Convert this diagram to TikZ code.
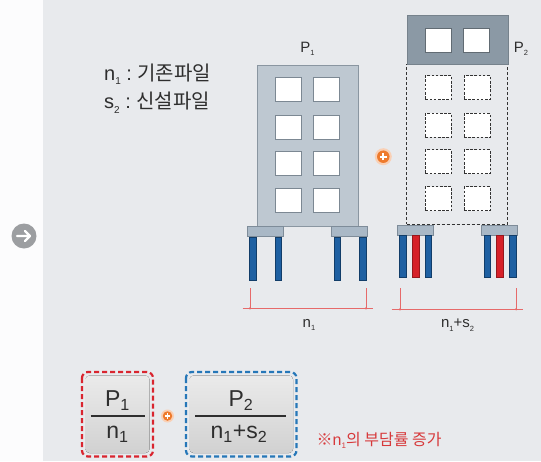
\documentclass[tikz,border=0pt]{standalone}
\usepackage{fontspec}
\setmainfont{Liberation Sans}
\newfontfamily\kr{Noto Sans CJK KR}
% small, low index used in the labels
\newcommand{\lowidx}[1]{\raisebox{-0.45ex}{\scalebox{0.5}{#1}}}
\definecolor{bg}{HTML}{E8EAED}
\definecolor{strip}{HTML}{FCFCFD}
\definecolor{txt}{HTML}{2E2E2E}
\definecolor{bodyc}{HTML}{BEC8D1}
\definecolor{bodyedge}{HTML}{8A96A1}
\definecolor{topc}{HTML}{8B99A5}
\definecolor{winedge}{HTML}{7C8893}
\definecolor{footc}{HTML}{A9B8C6}
\definecolor{footedge}{HTML}{7E8C99}
\definecolor{pblue}{HTML}{1E60A2}
\definecolor{pblueedge}{HTML}{113D69}
\definecolor{pred}{HTML}{D62129}
\definecolor{dimred}{HTML}{E66A6A}
\definecolor{plusc}{HTML}{EE7A2C}
\definecolor{notered}{HTML}{D7393B}
\definecolor{boxred}{HTML}{D9252F}
\definecolor{boxblue}{HTML}{2677B8}
\definecolor{arrowgray}{HTML}{9C9EA1}
\begin{document}
\begin{tikzpicture}[x=1pt,y=-1pt,
  box/.style={rectangle, inner sep=0pt, outer sep=0pt},
  bodybox/.style={box, fill=bodyc, draw=bodyedge, line width=0.8pt},
  topbox/.style={box, fill=topc, draw=topc!85!black, line width=0.6pt},
  winbox/.style={box, fill=white, draw=winedge, line width=0.8pt, minimum width=26pt, minimum height=24pt},
  dwinbox/.style={box, fill=white, draw=black!80, line width=0.9pt, dash pattern=on 2.6pt off 1.6pt, minimum width=26pt, minimum height=24pt},
  dashbody/.style={box, fill=bg, draw=black!80, line width=0.8pt, dash pattern=on 3pt off 2pt},
  footbox/.style={box, fill=footc, draw=footedge, line width=0.7pt, minimum width=36pt, minimum height=10pt},
  pileblue/.style={box, fill=pblue, draw=pblueedge, line width=0.6pt, minimum width=6.5pt},
  pilered/.style={box, fill=pred, draw=pred!70!black, line width=0.6pt, minimum width=6.5pt},
  dimline/.style={draw=dimred, line width=0.5pt},
  dimdot/.style={circle, fill=dimred, inner sep=0pt, minimum size=2.4pt},
  lbl/.style={text=txt, inner sep=0pt},
  plusglow/.style={circle, fill=plusc!35!white, inner sep=0pt},
  plusicon/.style={circle, fill=plusc, inner sep=0pt},
  fracbox/.style={rounded corners=6pt, line width=2.2pt, dash pattern=on 5pt off 3pt},
  fracfill/.style={rounded corners=4pt, top color=white!92!black, bottom color=white!82!black, draw=none}
]
\useasboundingbox (0,0) rectangle (541,461);
% backgrounds
\fill[bg] (0,0) rectangle (541,461);
\fill[strip] (0,0) rectangle (43,461);

% arrow icon on the strip
\node[circle, fill=arrowgray, minimum size=25pt, inner sep=0pt] (go) at (24,236) {};
\draw[white, line width=2.2pt, line cap=round, line join=round]
  ([xshift=-7pt]go.center) -- ([xshift=6pt]go.center)
  ([xshift=1pt,yshift=5pt]go.center) -- ([xshift=6pt]go.center) -- ([xshift=1pt,yshift=-5pt]go.center);

% legend
\node[lbl, anchor=base west, font=\fontsize{20}{22}\selectfont] (leg1) at (104,80) {n\lowidx{1}\;:\;{\kr 기존파일}};
\node[lbl, anchor=base west, font=\fontsize{20}{22}\selectfont] (leg2) at (104,108.5) {s\lowidx{2}\;:\;{\kr 신설파일}};

% ---------- existing building ----------
\node[bodybox, minimum width=101pt, minimum height=161pt] (b1) at (307.5,146.2) {};
\foreach \r/\yy in {1/89.7,2/127.2,3/163.8,4/200.5}
  \foreach \c/\xx in {1/288.3,2/326.7}
    \node[winbox] (w1-\r-\c) at (\xx,\yy) {};
\node[footbox] (f1a) at (265.7,231.7) {};
\node[footbox] (f1b) at (349.7,231.7) {};
\foreach \n/\xx in {1/252.7,2/278.3,3/337.5,4/362.7}
  \node[pileblue, minimum height=43pt] (p1-\n) at (\xx,258.3) {};
\node[lbl, font=\fontsize{15}{16}\selectfont] (lp1) at (307.5,49) {P\lowidx{1}};

% ---------- building with added storeys ----------
\node[dashbody, minimum width=101pt, minimum height=160pt] (b2) at (457.2,144) {};
\node[topbox, minimum width=101pt, minimum height=49pt] (t2) at (457.5,39.5) {};
\node[winbox, draw=topc!70!black] (tw1) at (438,40.7) {};
\node[winbox, draw=topc!70!black] (tw2) at (476.3,40.7) {};
\foreach \r/\yy in {1/87.5,2/125.3,3/161.7,4/198.7}
  \foreach \c/\xx in {1/438.3,2/477}
    \node[dwinbox] (w2-\r-\c) at (\xx,\yy) {};
\node[footbox] (f2a) at (415.5,230) {};
\node[footbox] (f2b) at (499.7,230) {};
\foreach \n/\xx/\st in {1/402.7/pileblue,2/415.7/pilered,3/428.3/pileblue,4/487.5/pileblue,5/500/pilered,6/512.7/pileblue}
  \node[\st, minimum height=42pt] (p2-\n) at (\xx,256.2) {};
\node[lbl, font=\fontsize{15}{16}\selectfont] (lp2) at (521,49) {P\lowidx{2}};

% plus between the buildings
\node[plusglow, minimum size=17pt] (plus1g) at (383.3,156.7) {};
\node[plusicon, minimum size=12.5pt] (plus1) at (plus1g) {};
\draw[white, line width=1.8pt] ([xshift=-3.5pt]plus1.center) -- ([xshift=3.5pt]plus1.center)
  ([yshift=-3.5pt]plus1.center) -- ([yshift=3.5pt]plus1.center);

% ---------- dimension lines ----------
\coordinate (d1l) at (250,288.3); \coordinate (d1r) at (366,288.3);
\coordinate (d1a) at (242.7,308.3); \coordinate (d1b) at (372.7,308.3);
\draw[dimline] (d1l) -- (d1l |- d1a) (d1r) -- (d1r |- d1a) (d1a) -- (d1b);
\node[dimdot] at (d1l |- d1a) {}; \node[dimdot] at (d1r |- d1a) {};
\node[lbl, font=\fontsize{15}{16}\selectfont] (ln1) at (309,325) {n\lowidx{1}};

\coordinate (d2l) at (400,288.3); \coordinate (d2r) at (516,288.3);
\coordinate (d2a) at (391.7,309.3); \coordinate (d2b) at (523.3,309.3);
\draw[dimline] (d2l) -- (d2l |- d2a) (d2r) -- (d2r |- d2a) (d2a) -- (d2b);
\node[dimdot] at (d2l |- d2a) {}; \node[dimdot] at (d2r |- d2a) {};
\node[lbl, font=\fontsize{15}{16}\selectfont] (ln2) at (457.5,325) {n\lowidx{1}+s\lowidx{2}};

% ---------- load sharing ratios ----------
\fill[fracfill] (85.5,375.5) rectangle (149.5,453);
\draw[fracbox, draw=boxred] (82,372) rectangle (153,456.5);
\node[lbl, font=\fontsize{23}{24}\selectfont] (fp1) at (117.5,400.5) {P\textsubscript{1}};
\draw[txt, line width=1.3pt] (90.5,416) -- (144.5,416);
\node[lbl, font=\fontsize{23}{24}\selectfont] (fn1) at (117.5,434) {n\textsubscript{1}};

\node[plusglow, minimum size=13pt] (plus2g) at (167.5,416) {};
\node[plusicon, minimum size=9.5pt] (plus2) at (plus2g) {};
\draw[white, line width=1.4pt] ([xshift=-2.7pt]plus2.center) -- ([xshift=2.7pt]plus2.center)
  ([yshift=-2.7pt]plus2.center) -- ([yshift=2.7pt]plus2.center);

\fill[fracfill] (189.5,375.5) rectangle (293,453);
\draw[fracbox, draw=boxblue] (186,372) rectangle (296.5,456.5);
\node[lbl, font=\fontsize{23}{24}\selectfont] (fp2) at (241,400.5) {P\textsubscript{2}};
\draw[txt, line width=1.3pt] (195,416) -- (285.5,416);
\node[lbl, font=\fontsize{23}{24}\selectfont] (fn2) at (239,434) {n\textsubscript{1}+s\textsubscript{2}};

\node[lbl, text=notered, anchor=base west, font=\fontsize{16}{17}\selectfont] (note) at (316.5,445) {{\kr ※}n\lowidx{1}{\kr 의 부담률 증가}};
\end{tikzpicture}
\end{document}
